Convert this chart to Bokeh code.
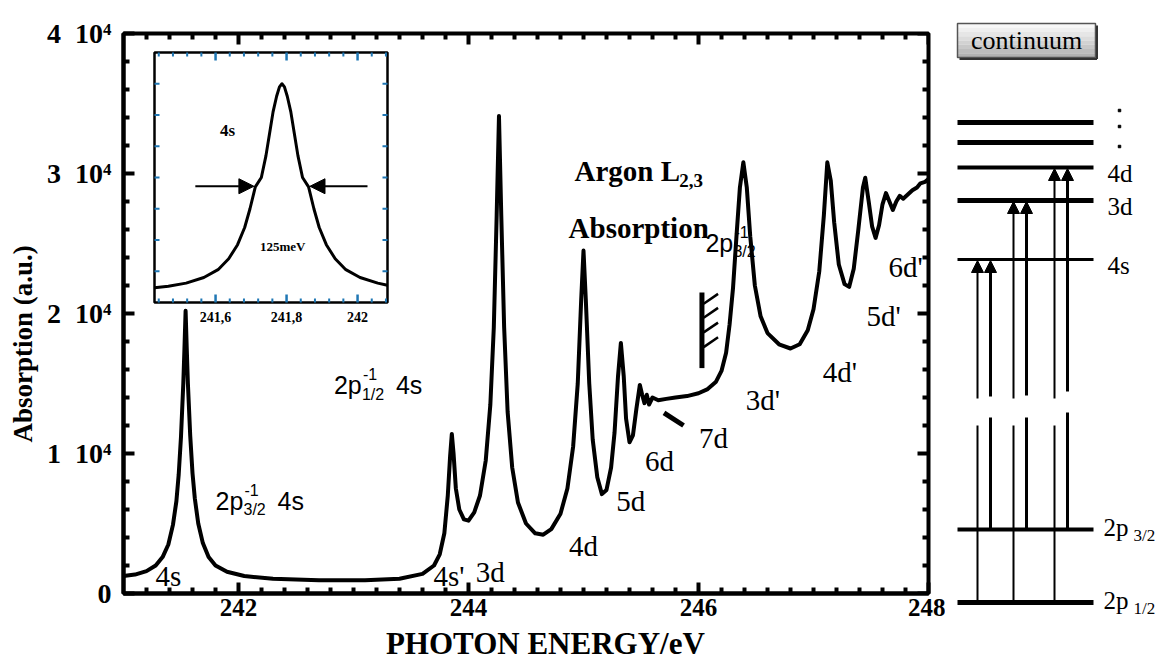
from bokeh.plotting import figure
from bokeh.models import Range1d, FixedTicker, Arrow, NormalHead
from bokeh.layouts import row
from bokeh.embed import file_html
from bokeh.resources import INLINE
from bokeh.core.properties import value

# ---------------- data ----------------
energy = [241.00, 241.10, 241.20, 241.28, 241.34, 241.39, 241.43, 241.46, 241.48, 241.50,
          241.52, 241.53, 241.54, 241.55, 241.56, 241.58, 241.60, 241.62, 241.65, 241.69,
          241.74, 241.80, 241.90, 242.05, 242.30, 242.70, 243.10, 243.40, 243.60, 243.70,
          243.75, 243.79, 243.82, 243.84, 243.855, 243.87, 243.89, 243.92, 243.96, 244.00,
          244.05, 244.10, 244.15, 244.19, 244.22, 244.245, 244.265, 244.285, 244.31, 244.34,
          244.38, 244.43, 244.50, 244.58, 244.65, 244.72, 244.80, 244.86, 244.91, 244.95,
          244.98, 245.00, 245.02, 245.05, 245.08, 245.12, 245.16, 245.20, 245.24, 245.27,
          245.30, 245.325, 245.35, 245.37, 245.40, 245.43, 245.46, 245.49, 245.51, 245.53,
          245.55, 245.57, 245.60, 245.65, 245.72, 245.80, 245.90, 246.00, 246.08, 246.15,
          246.20, 246.24, 246.27, 246.30, 246.33, 246.36, 246.39, 246.42, 246.45, 246.49,
          246.54, 246.60, 246.70, 246.80, 246.88, 246.95, 247.00, 247.05, 247.09, 247.12,
          247.15, 247.18, 247.22, 247.27, 247.31, 247.35, 247.39, 247.43, 247.45, 247.48,
          247.51, 247.54, 247.57, 247.60, 247.63, 247.66, 247.69, 247.72, 247.75, 247.78,
          247.82, 247.86, 247.90, 247.93, 247.97, 248.00]
absorption = [1250, 1350, 1600, 2000, 2600, 3500, 4900, 6600, 8500, 11200,
              15000, 17500, 20200, 17500, 15000, 11300, 8600, 6800, 5000, 3600,
              2600, 2000, 1550, 1250, 1050, 950, 950, 1050, 1400, 2000,
              2800, 4300, 7000, 9800, 11400, 10000, 7500, 6000, 5300, 5200,
              5800, 7000, 9500, 13500, 19000, 27000, 34100, 27000, 19000, 13000,
              9000, 6500, 5000, 4300, 4200, 4600, 5700, 7500, 10500, 15000,
              21000, 24500, 21000, 15000, 11000, 8300, 7100, 7400, 9000, 11500,
              15500, 17900, 15500, 12500, 10800, 11300, 13200, 14900, 14200, 13600,
              14200, 13500, 14000, 13800, 13900, 14000, 14100, 14300, 14600, 15100,
              15900, 17200, 19200, 21800, 25500, 29000, 30800, 29000, 25500, 22000,
              19800, 18600, 17800, 17500, 17800, 18800, 20300, 23000, 27000, 30800,
              29500, 26500, 23500, 22100, 21900, 23200, 26000, 29000, 29700, 28000,
              26200, 25400, 26300, 27800, 28600, 28000, 27400, 28000, 28400, 28200,
              28500, 28800, 29000, 29300, 29400, 29600]

inset_energy = [241.428, 241.467, 241.517, 241.567, 241.607, 241.637, 241.662, 241.682,
                241.697, 241.712, 241.729, 241.742, 241.752, 241.762, 241.772, 241.780,
                241.787, 241.794, 241.802, 241.812, 241.822, 241.832, 241.845, 241.862,
                241.877, 241.892, 241.912, 241.937, 241.967, 242.007, 242.057, 242.084]
inset_signal = [0.47, 0.52, 0.62, 0.80, 1.05, 1.40, 1.85, 2.40, 3.00, 3.70, 4.00, 4.70,
                5.40, 6.10, 6.60, 6.90, 7.00, 6.90, 6.60, 6.10, 5.40, 4.70, 4.00, 3.70,
                3.00, 2.40, 1.85, 1.40, 1.05, 0.80, 0.62, 0.55]

x_ticks = [242, 244, 246, 248]
x_tick_labels = ["242", "244", "246", "248"]
y_ticks = [0, 10000, 20000, 30000, 40000]
y_tick_labels = ["0", "1\u200210\u2074", "2\u200210\u2074", "3\u200210\u2074", "4\u200210\u2074"]
inset_ticks = [241.6, 241.8, 242.0]
inset_tick_labels = ["241,6", "241,8", "242"]

peak_labels = ["4s", "4s'", "3d", "4d", "5d", "6d", "7d", "3d'", "4d'", "5d'", "6d'"]
peak_label_x = [241.39, 243.83, 244.19, 245.00, 245.41, 245.66, 246.13, 246.56, 247.23, 247.61, 247.80]
peak_label_y = [1250, 1250, 1550, 3400, 6600, 9500, 11100, 13800, 15800, 19800, 23300]

# energy-level diagram (page-pixel units)
level_y = [122, 142, 167, 200, 259, 529, 602]
level_w = [5, 5, 4, 5, 3, 4, 5]
level_label = ["4d", "3d", "4s"]
level_label_y = [173, 206, 265]
core_label_y = [527, 600]
core_sub = ["3/2", "1/2"]
dots_y = [110, 126, 146]
arrow_x = [977, 990, 1013, 1026, 1054, 1067]
arrow_top = [259, 259, 200, 200, 167, 167]
arrow_bottom = [602, 529, 602, 529, 602, 529]
arrow_w = [2, 3, 2, 3, 2, 3]
arrow_gap_top = [398, 396, 398, 395, 398, 391]
arrow_gap_bottom = [425, 417, 425, 417, 425, 412]

SERIF = value("Liberation Serif")
SANS = value("Liberation Sans")
NB = "\u00a0"

# ---------------- main figure ----------------
PW, H = 945, 666
FL, FR, FT, FB = 123, 928, 33, 593
p = figure(width=PW, height=H, x_range=Range1d(241, 248), y_range=Range1d(0, 40000),
           output_backend="svg", toolbar_location=None,
           min_border_left=FL, min_border_right=PW - FR, min_border_top=FT,
           min_border_bottom=H - FB)
p.frame_align = False
p.grid.visible = False
p.outline_line_color = "black"
p.outline_line_width = 4

x_minor = [round(241 + 0.2 * i, 2) for i in range(1, 35) if i % 10 != 5]
y_minor = [2000 * i for i in range(1, 20) if i % 5 != 0]

for ax in (p.xaxis[0], p.yaxis[0]):
    ax.axis_line_width = 4
    ax.major_tick_in = 11
    ax.major_tick_out = 0
    ax.minor_tick_in = 6
    ax.minor_tick_out = 0
    ax.major_tick_line_width = 4
    ax.minor_tick_line_width = 4
    ax.major_label_text_font = "Liberation Serif"
    ax.major_label_text_font_style = "bold"
    ax.major_label_text_color = "black"
    ax.axis_label_text_font = "Liberation Serif"
    ax.axis_label_text_font_style = "bold"
    ax.axis_label_text_color = "black"

p.xaxis.ticker = FixedTicker(ticks=x_ticks, minor_ticks=x_minor)
p.yaxis.ticker = FixedTicker(ticks=y_ticks, minor_ticks=y_minor)
p.xaxis.major_label_overrides = dict(zip(x_ticks, x_tick_labels))
p.yaxis.major_label_overrides = dict(zip(y_ticks, y_tick_labels))
p.xaxis.major_label_text_font_size = "25px"
p.yaxis.major_label_text_font_size = "28px"
p.xaxis.axis_label = NB * 5 + "PHOTON ENERGY/eV"
p.xaxis.axis_label_text_font_size = "31px"
p.xaxis.major_label_standoff = 5
p.xaxis.axis_label_standoff = 7
p.yaxis.axis_label = "Absorption (a.u.)" + NB * 9
p.yaxis.axis_label_text_font_size = "27px"
p.yaxis.major_label_standoff = 12
p.yaxis.axis_label_standoff = 6

# ticks on top and right frame edges (inward)
tmaj_x, tmin_x = 11 * 7 / (FR - FL), 6 * 7 / (FR - FL)
tmaj_y, tmin_y = 11 * 40000 / (FB - FT), 6 * 40000 / (FB - FT)
p.segment(x0=x_ticks, y0=[40000] * 4, x1=x_ticks, y1=[40000 - tmaj_y] * 4,
          line_width=4, line_color="black")
p.segment(x0=x_minor, y0=[40000] * len(x_minor), x1=x_minor,
          y1=[40000 - tmin_y] * len(x_minor), line_width=4, line_color="black")
p.segment(x0=[248] * 5, y0=y_ticks, x1=[248 - tmaj_x] * 5, y1=y_ticks,
          line_width=4, line_color="black")
p.segment(x0=[248] * len(y_minor), y0=y_minor, x1=[248 - tmin_x] * len(y_minor),
          y1=y_minor, line_width=4, line_color="black")

# spectrum
p.line(energy, absorption, line_width=4, line_color="black", line_join="round")

# ionisation edge marker (hatched)
edge_x = [246.03]
edge_y0, edge_y1 = [16100], [21500]
hatch_y0 = [20700, 19700, 18650, 17600]
p.segment(x0=edge_x, y0=edge_y0, x1=edge_x, y1=edge_y1, line_width=5, line_color="black")
p.segment(x0=[246.045] * 4, y0=hatch_y0, x1=[246.17] * 4, y1=[v + 700 for v in hatch_y0],
          line_width=2.5, line_color="black")
# 7d pointer
p.segment(x0=[245.70], y0=[12900], x1=[245.87], y1=[12000], line_width=5, line_color="black")

# peak labels
p.text(peak_label_x, peak_label_y, text=peak_labels, text_font=SERIF, text_font_size="29px",
       text_align="center", text_baseline="middle", text_color="black")

# composite labels: 2p_{j}^{-1} 4s
comp_x = [241.80, 242.83, 246.06]
comp_y = [6640, 14860, 25070]
comp_sub = ["3/2", "1/2", "3/2"]
comp_tail = ["4s", "4s", ""]
p.text(comp_x, comp_y, text=["2p"] * 3, text_font=SANS, text_font_size="25px",
       text_baseline="middle", text_color="black")
p.text(comp_x, comp_y, text=comp_sub, text_font=SANS, text_font_size="16px",
       text_baseline="middle", x_offset=28, y_offset=9, text_color="black")
p.text(comp_x, comp_y, text=["-1"] * 3, text_font=SANS, text_font_size="16px",
       text_baseline="middle", x_offset=29, y_offset=-11, text_color="black")
p.text(comp_x, comp_y, text=comp_tail, text_font=SANS, text_font_size="25px",
       text_baseline="middle", x_offset=62, text_color="black")

# title
p.text([245.38], [30200], text=["Argon L"], text_font=SERIF, text_font_size="29px",
       text_font_style="bold", text_align="center", text_baseline="middle")
p.text([245.38], [30200], text=["2,3"], text_font=SERIF, text_font_size="19px",
       text_font_style="bold", text_align="left", text_baseline="middle", x_offset=52, y_offset=10)
p.text([245.48], [26100], text=["Absorption"], text_font=SERIF, text_font_size="29px",
       text_font_style="bold", text_align="center", text_baseline="middle")

# ---------------- inset (extra ranges) ----------------
I_L, I_R, I_T, I_B = 154, 387, 52, 302
ppe = 355.0      # px per eV in inset
ppu = 31.25      # px per inset unit
ix0 = 241.428
p.extra_x_ranges = {"ix": Range1d(ix0 - (I_L - FL) / ppe, ix0 + (FR - I_L) / ppe)}
p.extra_y_ranges = {"iy": Range1d(-(FB - I_B) / ppu, (I_B - FT) / ppu)}
ix1 = ix0 + (I_R - I_L) / ppe
iy1 = (I_B - I_T) / ppu
kw = dict(x_range_name="ix", y_range_name="iy")
p.quad(left=[ix0], right=[ix1], bottom=[0], top=[iy1], fill_color="white",
       line_color="black", line_width=2.5, **kw)
in_minor = [round(241.44 + 0.04 * i, 2) for i in range(17)]
in_minor = [v for v in in_minor if v not in inset_ticks and v < ix1]
maj_len, min_len = 8 / ppu, 4 / ppu
p.segment(x0=inset_ticks, y0=[0] * 3, x1=inset_ticks, y1=[maj_len] * 3, line_width=2.5, **kw)
p.segment(x0=inset_ticks, y0=[iy1] * 3, x1=inset_ticks, y1=[iy1 - maj_len] * 3,
          line_width=2.5, **kw)
p.segment(x0=in_minor, y0=[0] * len(in_minor), x1=in_minor, y1=[min_len] * len(in_minor),
          line_width=2, **kw)
p.segment(x0=in_minor, y0=[iy1] * len(in_minor), x1=in_minor,
          y1=[iy1 - min_len] * len(in_minor), line_width=2, **kw)
iyt = [1, 2, 3, 4, 5, 6, 7]
p.segment(x0=[ix0] * 7, y0=iyt, x1=[ix0 + 5 / ppe] * 7, y1=iyt, line_width=2, **kw)
p.segment(x0=[ix1] * 7, y0=iyt, x1=[ix1 - 5 / ppe] * 7, y1=iyt, line_width=2, **kw)
p.text(inset_ticks, [-0.3] * 3, text=inset_tick_labels, text_font=SERIF,
       text_font_size="14px", text_font_style="bold", text_align="center",
       text_baseline="top", **kw)
p.line(inset_energy, inset_signal, line_width=3, line_color="black", line_join="round", **kw)
for xs, xe in [(241.543, 241.708), (242.028, 241.866)]:
    p.add_layout(Arrow(end=NormalHead(size=15, fill_color="black", line_color="black"),
                       x_start=xs, y_start=3.72, x_end=xe, y_end=3.72, line_width=2,
                       x_range_name="ix", y_range_name="iy"))
p.text([241.634], [5.5], text=["4s"], text_font=SERIF, text_font_size="17px",
       text_font_style="bold", text_align="center", text_baseline="middle", **kw)
p.text([241.789], [1.8], text=["125meV"], text_font=SERIF, text_font_size="13px",
       text_font_style="bold", text_align="center", text_baseline="middle", **kw)

# ---------------- energy-level diagram ----------------
q = figure(width=1160 - PW, height=H, x_range=Range1d(PW, 1160), y_range=Range1d(H, 0),
           output_backend="svg", toolbar_location=None, x_axis_type=None, y_axis_type=None,
           min_border=0)
q.frame_align = False
q.outline_line_color = None
q.grid.visible = False

box_cols = ["#f7f7f7", "#efefef", "#e6e6e6", "#dcdcdc", "#d2d2d2", "#c8c8c8", "#bdbdbd", "#b2b2b2"]
box_top, box_bot, box_l, box_r = 23, 57, 957, 1095
strip_h = (box_bot - box_top) / len(box_cols)
q.quad(left=[box_l] * 8, right=[box_r] * 8, top=[box_top + strip_h * i for i in range(8)],
       bottom=[box_top + strip_h * (i + 1) for i in range(8)], fill_color=box_cols, line_color=None)
q.quad(left=[box_l], right=[box_r], top=[box_top], bottom=[box_bot], fill_color=None,
       line_color="#555555", line_width=1.5)
q.segment(x0=[box_l + 2, box_r + 1.5], y0=[box_bot + 1.5, box_top + 2],
          x1=[box_r + 1.5, box_r + 1.5], y1=[box_bot + 1.5, box_bot + 1.5],
          line_color="#333333", line_width=2)
q.text([(box_l + box_r) / 2], [(box_top + box_bot) / 2], text=["continuum"], text_font=SERIF,
       text_font_size="26px", text_align="center", text_baseline="middle")

q.segment(x0=[957] * len(level_y), y0=level_y, x1=[1093] * len(level_y), y1=level_y,
          line_width=level_w, line_color="black")
q.text([1107] * 3, level_label_y, text=level_label, text_font=SERIF,
       text_font_size="25px", text_baseline="middle")
q.text([1103, 1103], core_label_y, text=["2p", "2p"], text_font=SERIF, text_font_size="25px",
       text_baseline="middle")
q.text([1133, 1133], [v + 8 for v in core_label_y], text=core_sub, text_font=SERIF,
       text_font_size="17px", text_baseline="middle")
q.rect([1119] * 3, dots_y, width=2.5, height=2.5, color="black")

q.segment(x0=arrow_x, y0=arrow_bottom, x1=arrow_x, y1=arrow_gap_bottom,
          line_width=arrow_w, line_color="black")
for x, ytop, yb, w in zip(arrow_x, arrow_top, arrow_gap_top, arrow_w):
    q.add_layout(Arrow(end=NormalHead(size=12, fill_color="black", line_color="black"),
                       x_start=x, y_start=yb, x_end=x, y_end=ytop + 1, line_width=w))

layout = row(p, q)
open("out.html", "w").write(file_html(layout, INLINE))
